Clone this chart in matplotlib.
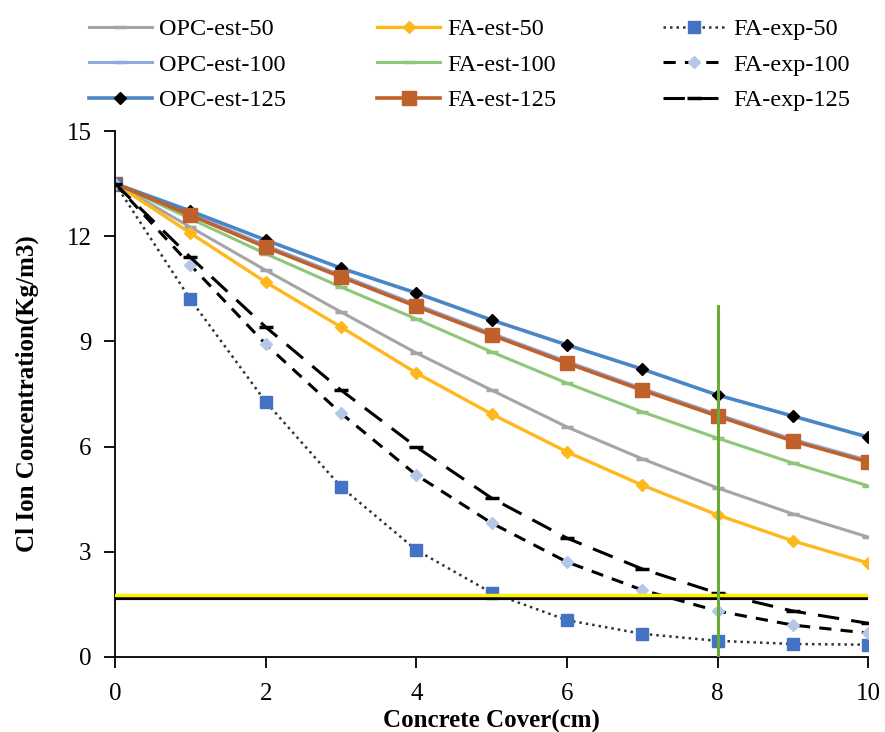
import matplotlib
matplotlib.use("Agg")
import matplotlib.pyplot as plt

plt.rcParams['font.family'] = ['Liberation Serif', 'DejaVu Serif']

cover = [0, 1, 2, 3, 4, 5, 6, 7, 8, 9, 10]

opc_est_50 = [13.5, 12.26, 11.03, 9.84, 8.67, 7.61, 6.56, 5.65, 4.82, 4.08, 3.42]
opc_est_100 = [13.5, 12.65, 11.74, 10.89, 10.05, 9.23, 8.43, 7.66, 6.92, 6.21, 5.61]
opc_est_125 = [13.5, 12.72, 11.89, 11.09, 10.38, 9.61, 8.90, 8.21, 7.47, 6.87, 6.27]
fa_est_50 = [13.5, 12.09, 10.69, 9.41, 8.10, 6.93, 5.85, 4.90, 4.05, 3.31, 2.68]
fa_est_100 = [13.5, 12.50, 11.50, 10.55, 9.64, 8.70, 7.81, 6.99, 6.24, 5.53, 4.88]
fa_est_125 = [13.5, 12.60, 11.69, 10.84, 10.00, 9.18, 8.38, 7.61, 6.87, 6.16, 5.56]
fa_exp_50 = [13.5, 10.20, 7.28, 4.85, 3.05, 1.83, 1.05, 0.66, 0.46, 0.37, 0.35]
fa_exp_100 = [13.5, 11.18, 8.92, 6.95, 5.19, 3.82, 2.71, 1.91, 1.31, 0.91, 0.68]
fa_exp_125 = [13.5, 11.40, 9.41, 7.61, 5.99, 4.53, 3.39, 2.51, 1.82, 1.31, 0.96]

limit_black = 1.67
limit_yellow = 1.77
cover_mark = 8
cover_mark_top = 10

fig = plt.figure(figsize=(8.85, 7.32), dpi=100)
ax = fig.add_axes([0.130, 0.1025, 0.851, 0.7185])

ax.plot(cover, opc_est_50, color='#A5A5A5', lw=2.2, marker='_', ms=9, mew=2.5, label='OPC-est-50')
ax.plot(cover, opc_est_100, color='#8FAADC', lw=2.2, marker='_', ms=9, mew=2.5, label='OPC-est-100')
ax.plot(cover, opc_est_125, color='#4A86C5', lw=2.6, marker='D', ms=6, mfc='black', mec='black', label='OPC-est-125')
ax.plot(cover, fa_est_50, color='#FFB81C', lw=2.4, marker='D', ms=6, mfc='#FFB81C', mec='#FFB81C', label='FA-est-50')
ax.plot(cover, fa_est_100, color='#8CC77A', lw=2.2, marker='_', ms=9, mew=2.5, label='FA-est-100')
ax.plot(cover, fa_est_125, color='#C0602A', lw=2.6, marker='s', ms=10, label='FA-est-125')
ax.plot(cover, fa_exp_50, color='#333333', lw=1.8, ls=(0, (1, 1.6)), marker='s', ms=8.5,
        mfc='#4472C4', mec='#4472C4', label='FA-exp-50')
ax.plot(cover, fa_exp_100, color='black', lw=2.2, ls=(0, (4, 3)), marker='D', ms=6.5,
        mfc='#B4C7E7', mec='#B4C7E7', label='FA-exp-100')
ax.plot(cover, fa_exp_125, color='black', lw=2.2, ls=(0, (7, 4)), marker='_', ms=10, mew=2.5,
        label='FA-exp-125')

ax.plot([cover[0], cover[-1]], [limit_black, limit_black], color='black', lw=3, zorder=5)
ax.plot([cover[0], cover[-1]], [limit_yellow, limit_yellow], color='#FFF200', lw=2.5, zorder=6)
ax.plot([cover_mark, cover_mark], [0, cover_mark_top], color='#6AAA3A', lw=2.2, zorder=7)

ax.set_xlim(0, 10)
ax.set_ylim(0, 15)
ax.set_xticks([0, 2, 4, 6, 8, 10])
ax.set_yticks([0, 3, 6, 9, 12, 15])
ax.spines['top'].set_visible(False)
ax.spines['right'].set_visible(False)
ax.spines['left'].set_linewidth(1.3)
ax.spines['bottom'].set_linewidth(1.3)
ax.tick_params(direction='out', length=8, width=1.3, labelsize=18)
ax.tick_params(axis='x', pad=11)
ax.tick_params(axis='y', pad=9)
for s in ['left', 'bottom']:
    ax.spines[s].set_clip_on(False)

ax.set_xlabel('Concrete Cover(cm)', fontsize=18, fontweight='bold', labelpad=3)
ax.set_ylabel('Cl Ion Concentration(Kg/m3)', fontsize=18, fontweight='bold', labelpad=20)

# Excel-style legend: three equal-width columns
handles, labels = ax.get_legend_handles_labels()
col_x = [0.1, 0.426, 0.749]
for i, x0 in enumerate(col_x):
    fig.legend(handles[3 * i:3 * i + 3], labels[3 * i:3 * i + 3],
               loc='upper left', bbox_to_anchor=(x0, 0.975), ncol=1, frameon=False,
               fontsize=17.5, handlelength=2.6, labelspacing=0.55,
               handletextpad=0.3, borderaxespad=0, borderpad=0)

fig.savefig('out.png', dpi=100)
